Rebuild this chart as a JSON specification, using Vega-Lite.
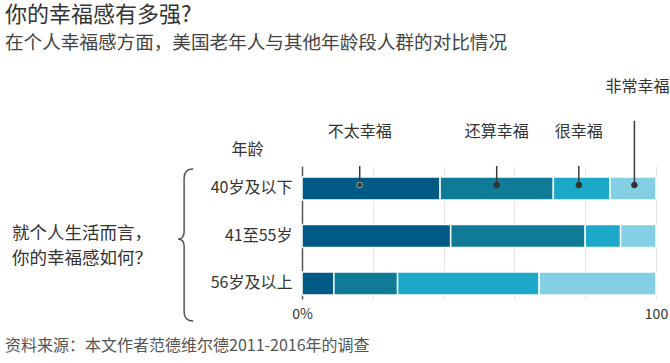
{
  "$schema": "https://vega.github.io/schema/vega-lite/v6.json",
  "padding": {"left": 5, "top": 4, "right": 2, "bottom": 2},
  "background": "white",
  "config": {"font": "Noto Sans CJK SC", "view": {"stroke": null}},
  "title": {
    "text": "你的幸福感有多强?",
    "subtitle": "在个人幸福感方面，美国老年人与其他年龄段人群的对比情况",
    "anchor": "start",
    "fontSize": 22,
    "fontWeight": "normal",
    "color": "#333333",
    "subtitleFontSize": 18.6,
    "subtitleColor": "#444444",
    "subtitlePadding": 7,
    "offset": 25
  },
  "datasets": {
    "survey": [
      {"age": "40岁及以下", "feeling": "不太幸福", "share": 39},
      {"age": "40岁及以下", "feeling": "还算幸福", "share": 32},
      {"age": "40岁及以下", "feeling": "很幸福", "share": 16},
      {"age": "40岁及以下", "feeling": "非常幸福", "share": 13},
      {"age": "41至55岁", "feeling": "不太幸福", "share": 42},
      {"age": "41至55岁", "feeling": "还算幸福", "share": 38},
      {"age": "41至55岁", "feeling": "很幸福", "share": 10},
      {"age": "41至55岁", "feeling": "非常幸福", "share": 10},
      {"age": "56岁及以上", "feeling": "不太幸福", "share": 9},
      {"age": "56岁及以上", "feeling": "还算幸福", "share": 18},
      {"age": "56岁及以上", "feeling": "很幸福", "share": 40},
      {"age": "56岁及以上", "feeling": "非常幸福", "share": 33}
    ],
    "notes": [
      {"label": "不太幸福", "pos": 16.3},
      {"label": "还算幸福", "pos": 55},
      {"label": "很幸福", "pos": 78.2},
      {"label": "非常幸福", "pos": 93.9}
    ]
  },
  "vconcat": [
    {
      "width": 354,
      "height": 133,
      "title": {
        "text": "资料来源：本文作者范德维尔德2011-2016年的调查",
        "orient": "bottom",
        "anchor": "start",
        "frame": "group",
        "dx": -297,
        "offset": 14,
        "fontSize": 16,
        "fontWeight": "normal",
        "color": "#555555"
      },
      "layer": [
        {
          "layer": [
            {
              "data": {"name": "survey"},
              "transform": [
                {"calculate": "indexof(['不太幸福', '还算幸福', '很幸福', '非常幸福'], datum.feeling)", "as": "stackOrder"}
              ],
              "mark": {"type": "bar", "stroke": "white", "strokeWidth": 1.5},
              "encoding": {
                "y": {
                  "field": "age",
                  "type": "nominal",
                  "scale": {
                    "domain": ["40岁及以下", "41至55岁", "56岁及以上"],
                    "paddingInner": 0.516,
                    "paddingOuter": 0.158,
                    "align": 0.733
                  },
                  "axis": {
                    "title": "年龄",
                    "titleAngle": 0,
                    "titleAlign": "right",
                    "titleBaseline": "middle",
                    "titleX": -39,
                    "titleY": -17,
                    "titleFontSize": 16,
                    "titleFontWeight": "normal",
                    "titleColor": "#333333",
                    "labelFontSize": 16,
                    "labelColor": "#333333",
                    "labelPadding": 10,
                    "ticks": false,
                    "domainColor": "#555555",
                    "domainWidth": 1.5,
                    "grid": false
                  }
                },
                "x": {
                  "field": "share",
                  "type": "quantitative",
                  "stack": "zero",
                  "scale": {"domain": [0, 100], "nice": false},
                  "axis": {
                    "title": null,
                    "values": [0, 10, 20, 30, 40, 50, 60, 70, 80, 90, 100],
                    "labelExpr": "datum.value == 0 ? '0%' : (datum.value % 50 == 0 ? datum.label : '')",
                    "grid": true,
                    "gridColor": "#e4e4e4",
                    "domain": false,
                    "ticks": false,
                    "labelFlush": false,
                    "labelFontSize": 14,
                    "labelColor": "#333333",
                    "labelPadding": 8
                  }
                },
                "order": {"field": "stackOrder", "type": "quantitative", "sort": "ascending"},
                "color": {
                  "field": "feeling",
                  "type": "nominal",
                  "sort": ["不太幸福", "还算幸福", "很幸福", "非常幸福"],
                  "scale": {
                    "domain": ["不太幸福", "还算幸福", "很幸福", "非常幸福"],
                    "range": ["#005a86", "#0f7b96", "#1ca9c9", "#83cfe3"]
                  },
                  "legend": null
                }
              }
            },
            {
              "data": {"values": [{}]},
              "mark": {
                "type": "text",
                "align": "left",
                "baseline": "middle",
                "fontSize": 17.5,
                "color": "#333333",
                "lineHeight": 25,
                "dy": -1.5,
                "text": ["就个人生活而言，", "你的幸福感如何？"]
              },
              "encoding": {
                "x": {"datum": -81.9, "type": "quantitative"},
                "y": {"datum": "41至55岁", "type": "nominal"}
              }
            },
            {
              "data": {"values": [{}]},
              "mark": {
                "type": "point",
                "shape": "M 0.12 -0.88 Q 0 -0.88 0 -0.76 L 0 -0.06 Q 0 0.04 -0.08 0.04 Q 0 0.04 0 0.14 L 0 1.0 Q 0 1.12 0.12 1.12",
                "size": 23104,
                "filled": false,
                "stroke": "#555555",
                "strokeWidth": 1.5,
                "opacity": 1
              },
              "encoding": {
                "x": {"datum": -33.3, "type": "quantitative"},
                "y": {"datum": "41至55岁", "type": "nominal"}
              }
            }
          ]
        },
        {
          "data": {"name": "notes"},
          "layer": [
            {
              "transform": [{"filter": "datum.label != '非常幸福'"}],
              "mark": {"type": "rule", "color": "#3a3a3a", "strokeWidth": 1.5},
              "encoding": {
                "x": {"field": "pos", "type": "quantitative", "title": null},
                "y": {"datum": 1.0, "type": "quantitative", "scale": {"domain": [0, 1], "nice": false, "zero": false}, "axis": null},
                "y2": {"datum": 0.857}
              }
            },
            {
              "transform": [{"filter": "datum.label == '非常幸福'"}],
              "mark": {"type": "rule", "color": "#3a3a3a", "strokeWidth": 1.5},
              "encoding": {
                "x": {"field": "pos", "type": "quantitative", "title": null},
                "y": {"datum": 1.341, "type": "quantitative", "scale": {"domain": [0, 1], "nice": false, "zero": false}, "axis": null},
                "y2": {"datum": 0.857}
              }
            },
            {
              "transform": [{"filter": "datum.label != '非常幸福'"}],
              "mark": {"type": "text", "fontSize": 16, "color": "#333333", "baseline": "middle", "align": "center"},
              "encoding": {
                "x": {"field": "pos", "type": "quantitative", "title": null},
                "y": {"datum": 1.258, "type": "quantitative", "scale": {"domain": [0, 1], "nice": false, "zero": false}, "axis": null},
                "text": {"field": "label"}
              }
            },
            {
              "transform": [{"filter": "datum.label == '非常幸福'"}],
              "mark": {"type": "text", "fontSize": 16, "color": "#333333", "baseline": "middle", "align": "center", "dx": 3},
              "encoding": {
                "x": {"field": "pos", "type": "quantitative", "title": null},
                "y": {"datum": 1.594, "type": "quantitative", "scale": {"domain": [0, 1], "nice": false, "zero": false}, "axis": null},
                "text": {"field": "label"}
              }
            },
            {
              "mark": {"type": "point", "filled": true, "size": 32, "color": "#333333", "opacity": 1, "strokeWidth": 1},
              "encoding": {
                "x": {"field": "pos", "type": "quantitative", "title": null},
                "y": {"datum": 0.857, "type": "quantitative", "scale": {"domain": [0, 1], "nice": false, "zero": false}, "axis": null},
                "stroke": {
                  "condition": {"test": "datum.label == '不太幸福'", "value": "#aaaaaa"},
                  "value": "#333333"
                }
              }
            }
          ]
        }
      ],
      "resolve": {"scale": {"y": "independent"}, "axis": {"y": "independent"}}
    }
  ]
}
